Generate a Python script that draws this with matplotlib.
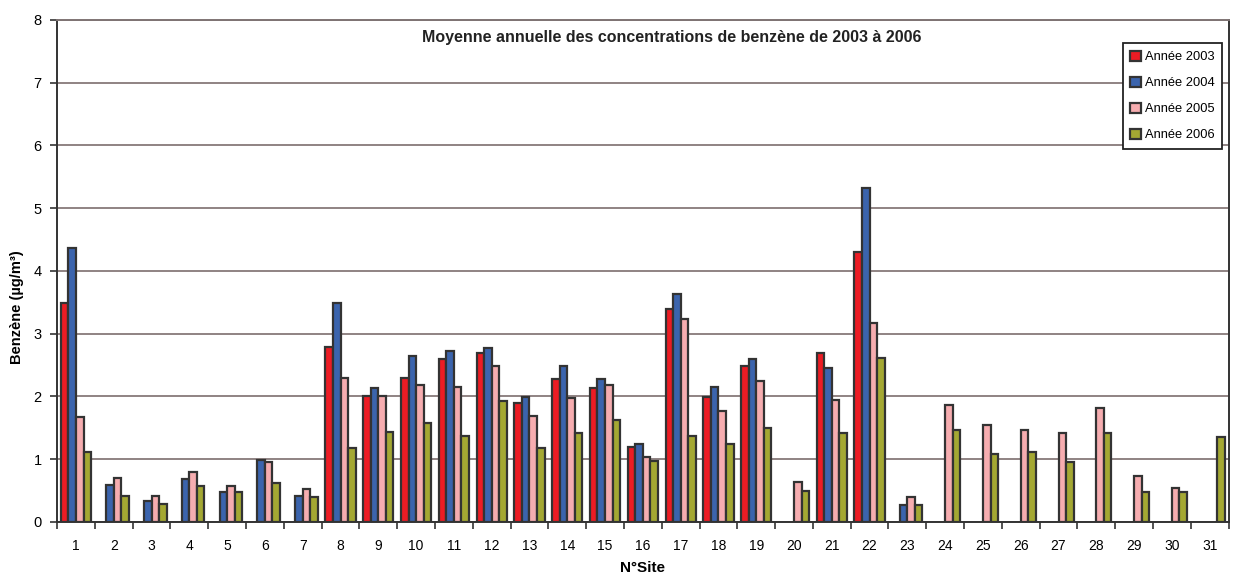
import matplotlib
matplotlib.use("Agg")
import matplotlib.pyplot as plt
import numpy as np

plt.rcParams.update({"font.family": ["Liberation Sans", "DejaVu Sans"]})

nan = np.nan
SITES = list(range(1, 32))
YEARS = ["Année 2003", "Année 2004", "Année 2005", "Année 2006"]
COLORS = ["#ec1c24", "#3b64ad", "#f6adb0", "#a4a833"]

v2003 = [3.49, nan, nan, nan, nan, nan, nan, 2.79, 2.00, 2.30, 2.60, 2.70, 1.89, 2.28, 2.13, 1.20,
         3.40, 1.99, 2.49, nan, 2.69, 4.30, nan, nan, nan, nan, nan, nan, nan, nan, nan]
v2004 = [4.37, 0.59, 0.33, 0.69, 0.47, 0.98, 0.42, 3.49, 2.13, 2.65, 2.72, 2.78, 1.99, 2.48, 2.28, 1.25,
         3.64, 2.15, 2.59, nan, 2.45, 5.32, 0.27, nan, nan, nan, nan, nan, nan, nan, nan]
v2005 = [1.68, 0.70, 0.42, 0.79, 0.57, 0.95, 0.52, 2.30, 2.00, 2.19, 2.15, 2.48, 1.69, 1.98, 2.18, 1.04,
         3.24, 1.77, 2.24, 0.64, 1.94, 3.17, 0.40, 1.87, 1.55, 1.47, 1.41, 1.82, 0.74, 0.54, nan]
v2006 = [1.12, 0.42, 0.29, 0.57, 0.47, 0.62, 0.40, 1.18, 1.44, 1.58, 1.37, 1.93, 1.18, 1.42, 1.63, 0.97,
         1.37, 1.24, 1.50, 0.50, 1.42, 2.62, 0.27, 1.46, 1.09, 1.11, 0.95, 1.41, 0.47, 0.47, 1.35]
SERIES = [v2003, v2004, v2005, v2006]

fig = plt.figure(figsize=(12.41, 5.79), dpi=100)
ax = fig.add_axes([0.046, 0.0985, 0.944, 0.867])

x = np.arange(1, 32)
w = 0.2
for i, (vals, c, lab) in enumerate(zip(SERIES, COLORS, YEARS)):
    ax.bar(x + (i - 1.5) * w, vals, width=w, color=c, edgecolor="#333333",
           linewidth=1.6, label=lab, zorder=3)

ax.set_xlim(0.5, 31.5)
ax.set_ylim(0, 8)
ax.set_yticks(range(0, 9))
ax.yaxis.grid(True, color="#8f8383", lw=1.4, zorder=0)
ax.set_xticks(x)
ax.set_xticklabels([str(s) for s in SITES])
ax.set_xticks(np.arange(0.5, 32), minor=True)
ax.tick_params(axis="x", which="major", length=0, pad=12, labelsize=10)
ax.tick_params(axis="x", which="minor", length=5, width=1.2, color="#333333")
ax.tick_params(axis="y", length=5, width=1.2, color="#333333", labelsize=10.5, pad=6)

for s in ["left", "bottom", "right"]:
    ax.spines[s].set_color("#333333")
    ax.spines[s].set_linewidth(1.4)
ax.spines["top"].set_color("#7f7474")
ax.spines["top"].set_linewidth(1.4)

ax.set_xlabel("N°Site", fontweight="bold", fontsize=11, labelpad=6)
fig.text(0.014, 0.47, "Benzène (µg/m³)", rotation=90, fontweight="bold",
         fontsize=10.5, ha="center", va="center")

ax.text(0.525, 0.965, "Moyenne annuelle des concentrations de benzène de 2003 à 2006",
        transform=ax.transAxes, ha="center", va="center", fontweight="bold",
        fontsize=11.5, color="#222222")

leg = ax.legend(loc="upper right", bbox_to_anchor=(1.0, 0.967), fontsize=9.3,
                handlelength=0.8, handleheight=0.8, handletextpad=0.3,
                labelspacing=1.05, borderpad=0.6, fancybox=False, framealpha=1)
leg.get_frame().set_edgecolor("#222222")
leg.get_frame().set_linewidth(1.3)

fig.savefig("out.png", dpi=100)
